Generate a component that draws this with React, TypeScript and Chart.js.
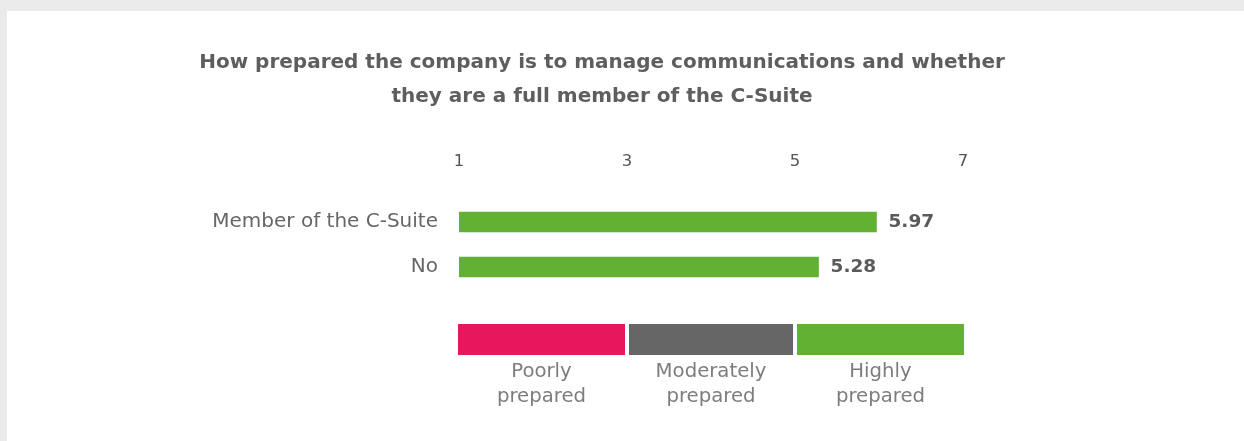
import React, { useEffect, useRef } from "react";
import { Chart, registerables } from "chart.js";

Chart.register(...registerables);

const categories = ["Member of the C-Suite", "No"];
const values = [5.97, 5.28];
const tickValues = [1, 3, 5, 7];
const titleLines = [
  "How prepared the company is to manage communications and whether",
  "they are a full member of the C-Suite",
];
const bandStarts = [1, 3, 5];
const bandEnds = [3, 5, 7];
const bandLabels = [
  ["Poorly", "prepared"],
  ["Moderately", "prepared"],
  ["Highly", "prepared"],
];

const FONT = "'DejaVu Sans', 'Noto Sans', sans-serif";
const BAR_COLOR = "#62b133";
const BAND_COLORS = ["#e8175d", "#666666", "#62b133"];

const extrasPlugin = {
  id: "extras",
  afterDatasetsDraw(chart: any) {
    const ctx = chart.ctx;
    const xs = chart.scales.x;
    const meta = chart.getDatasetMeta(0);
    ctx.save();
    // value labels
    ctx.font = `bold 18.5px ${FONT}`;
    ctx.fillStyle = "#5a5a5a";
    ctx.textAlign = "left";
    ctx.textBaseline = "middle";
    meta.data.forEach((el: any, i: number) => {
      ctx.fillText(values[i].toFixed(2), el.x + 12, el.y);
    });
    // legend bands
    const top = chart.chartArea.bottom + 34.5;
    const h = 31;
    const last = bandStarts.length - 1;
    bandStarts.forEach((s, i) => {
      const l = xs.getPixelForValue(s) + (i === 0 ? -1 : 2);
      const r = xs.getPixelForValue(bandEnds[i]) + (i === last ? 1 : -2);
      ctx.fillStyle = BAND_COLORS[i];
      ctx.fillRect(l, top, r - l, h);
      ctx.font = `19.7px ${FONT}`;
      ctx.fillStyle = "#7d7d7d";
      ctx.textAlign = "center";
      ctx.textBaseline = "middle";
      const cx = (l + r) / 2;
      bandLabels[i].forEach((t, j) => {
        ctx.fillText(t, cx, top + h + 17 + j * 25);
      });
    });
    ctx.restore();
  },
};

export default function App() {
  const ref = useRef<HTMLCanvasElement>(null);
  useEffect(() => {
    if (!ref.current) return;
    const chart = new Chart(ref.current, {
      type: "bar",
      data: {
        labels: categories,
        datasets: [
          {
            data: values,
            backgroundColor: BAR_COLOR,
            barThickness: 20,
            base: 1,
            yAxisID: "y",
          },
        ],
      },
      options: {
        indexAxis: "y",
        animation: false,
        responsive: false,
        layout: { padding: { left: 173, right: 220, top: 0, bottom: 151.5 } },
        plugins: {
          legend: { display: false },
          tooltip: { enabled: false },
          title: {
            display: true,
            text: titleLines,
            color: "#5e5e5e",
            font: { family: FONT, size: 20, weight: "bold", lineHeight: "34px" },
            padding: { top: 35, bottom: 0 },
          },
        },
        scales: {
          x: {
            position: "top",
            min: 1,
            max: 7,
            afterBuildTicks(scale: any) {
              scale.ticks = tickValues.map((v) => ({ value: v }));
            },
            afterFit(scale: any) {
              scale.height = 85.5;
            },
            grid: { display: false, drawTicks: false },
            border: { display: false },
            ticks: {
              color: "#555555",
              font: { family: FONT, size: 16.5 },
              padding: 27.9,
              maxRotation: 0,
            },
          },
          y: {
            afterFit(scale: any) {
              scale.width = 279;
            },
            grid: { display: false, drawTicks: false },
            border: { display: false },
            ticks: {
              color: "#666666",
              font: { family: FONT, size: 20 },
              padding: 21,
            },
          },
          yRight: {
            type: "linear",
            axis: "y",
            position: "right",
            afterFit(scale: any) {
              scale.width = 61;
            },
            grid: { display: false, drawTicks: false },
            border: { display: false },
            ticks: { display: false },
          },
        },
      },
      plugins: [extrasPlugin],
    });
    return () => chart.destroy();
  }, []);
  return (
    <div style={{ position: "fixed", inset: 0, background: "#ebebeb" }}>
      <div
        style={{
          position: "absolute",
          left: 7,
          top: 11,
          width: 1237,
          height: 430,
          background: "#ffffff",
        }}
      >
        <canvas ref={ref} width={1237} height={430} style={{ display: "block" }} />
      </div>
    </div>
  );
}
